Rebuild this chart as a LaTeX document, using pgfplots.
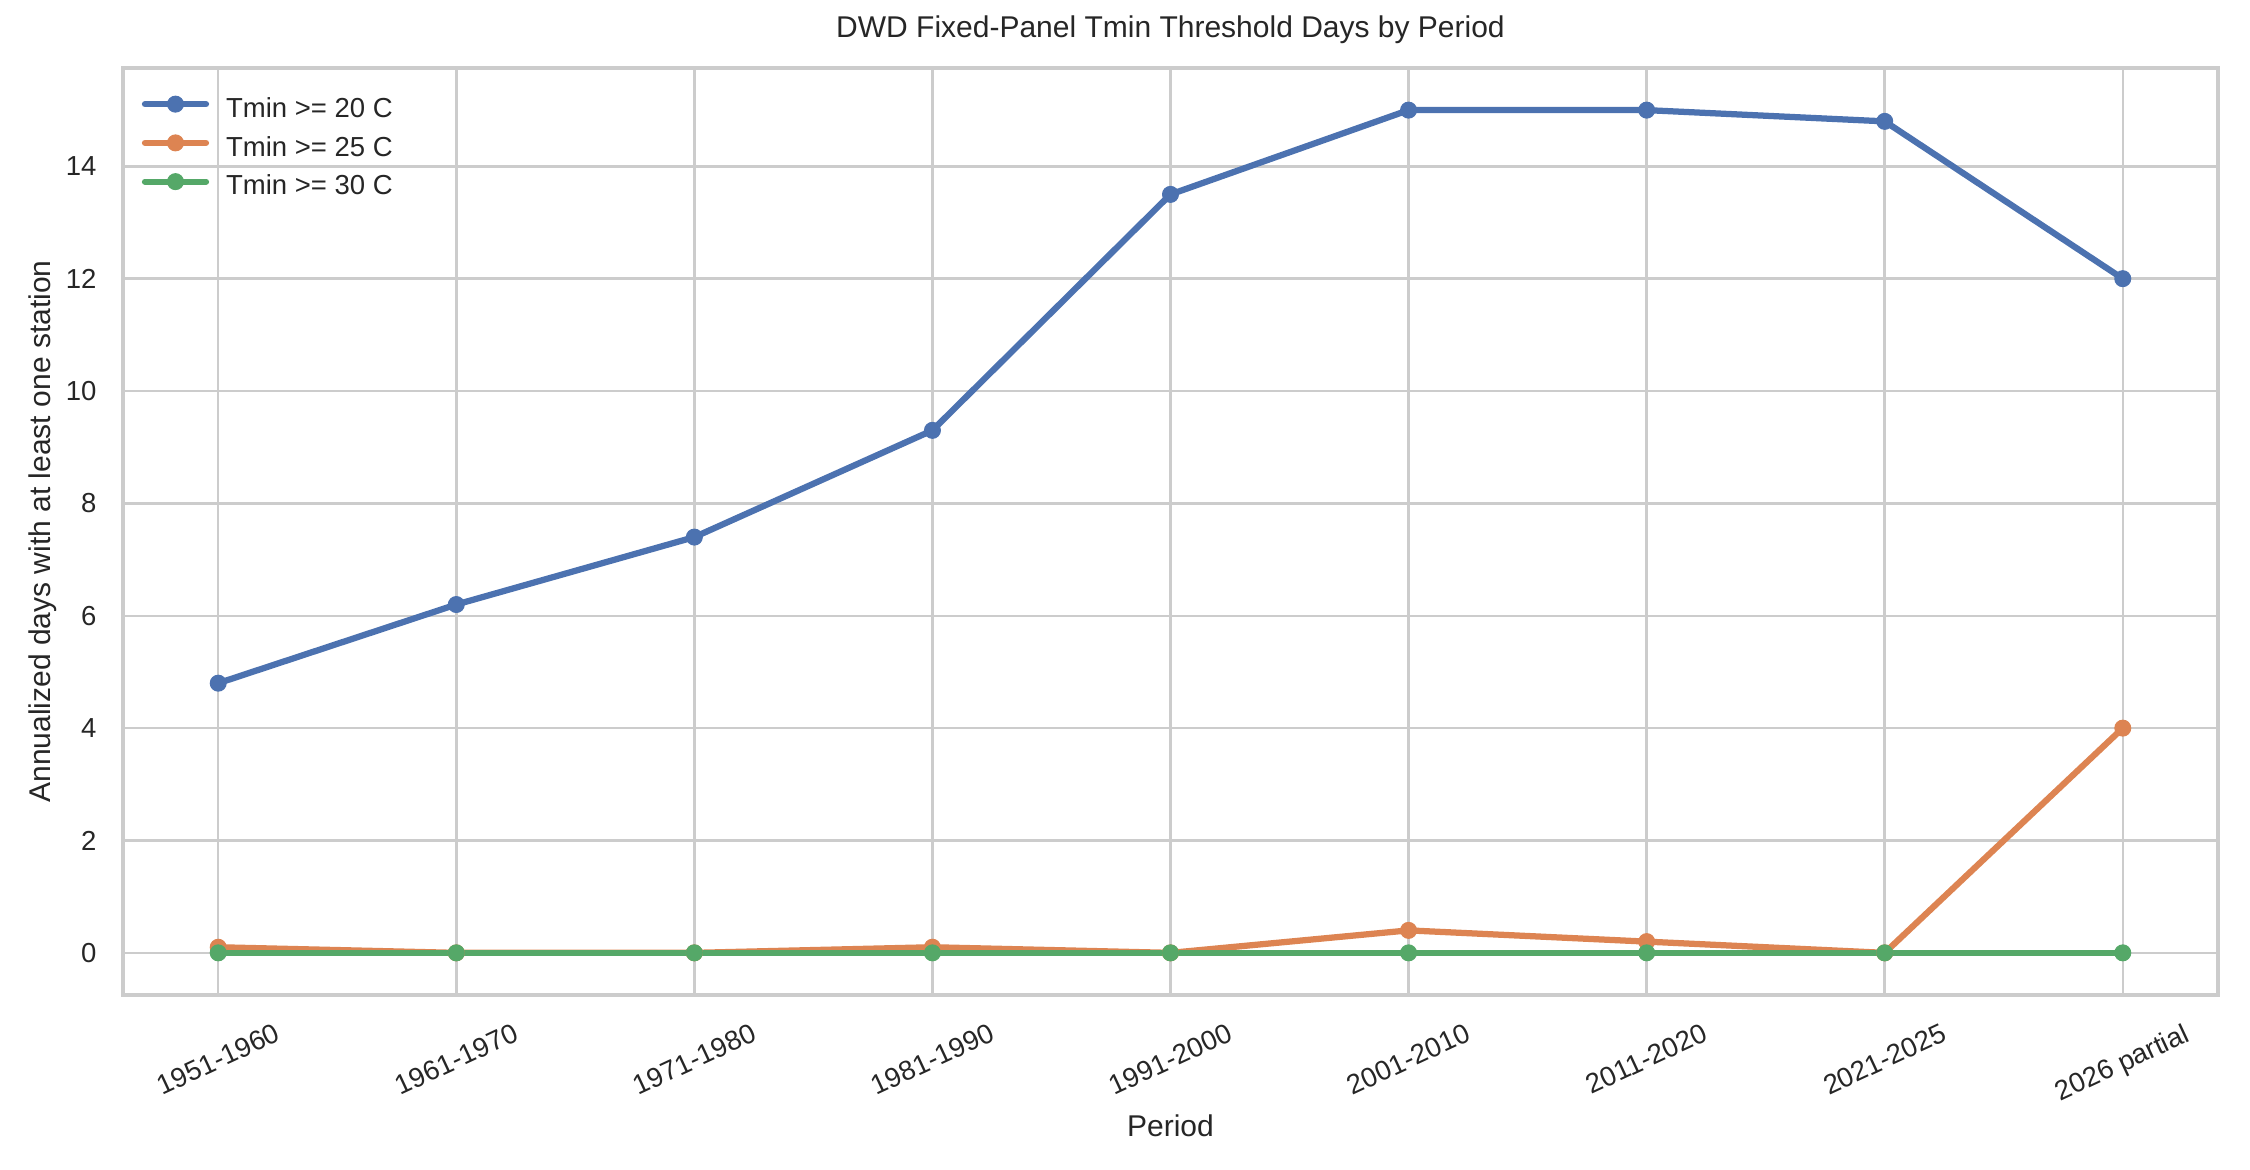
\documentclass[border=0pt]{standalone}
\usepackage{fontspec}
\setmainfont{Liberation Sans}
\usepackage{graphicx}
\usepackage{pgfplots}
\pgfplotsset{compat=1.18}
\definecolor{sbblue}{HTML}{4C72B0}
\definecolor{sborange}{HTML}{DD8452}
\definecolor{sbgreen}{HTML}{55A868}
\definecolor{gridc}{HTML}{CCCCCC}
\definecolor{txt}{HTML}{262626}
\newcommand{\lstrut}{\rule[-4pt]{0pt}{16pt}}
\begin{document}
\begin{tikzpicture}
\begin{axis}[
  scale only axis, width=838pt, height=370.8pt,
  xmin=-0.4, xmax=8.4, ymin=-0.75, ymax=15.75,
  xtick={0,1,2,3,4,5,6,7,8},
  xticklabels={\rotatebox{25}{1951-1960},\rotatebox{25}{1961-1970},\rotatebox{25}{1971-1980},\rotatebox{25}{1981-1990},\rotatebox{25}{1991-2000},\rotatebox{25}{2001-2010},\rotatebox{25}{2011-2020},\rotatebox{25}{2021-2025},\rotatebox{25}{2026 partial}},
  ytick={0,2,4,6,8,10,12,14},
  grid=major,
  major grid style={gridc, line width=1pt},
  axis line style={gridc, line width=1.25pt},
  major tick length=0pt,
  tick label style={font=\fontsize{11}{13}\selectfont, text=txt},
  /pgf/number format/assume math mode=true,
  xticklabel style={anchor=north, inner sep=0pt, yshift=-10.8pt},
  yticklabel style={anchor=east, inner sep=0pt, xshift=-10.4pt},
  title={DWD Fixed-Panel Tmin Threshold Days by Period},
  title style={at={(axis description cs:0.5,1)}, anchor=base, yshift=6pt, inner sep=0pt, font=\fontsize{12}{14}\selectfont, text=txt},
  xlabel={Period},
  xlabel style={at={(axis description cs:0.5,0)}, anchor=base, yshift=-56.8pt, inner sep=0pt, font=\fontsize{12}{14}\selectfont, text=txt},
  ylabel={Annualized days with at least one station},
  ylabel style={at={(axis description cs:-0.0345,0.5)}, anchor=base, inner sep=0pt, font=\fontsize{12}{14}\selectfont, text=txt},
  legend style={at={(axis description cs:0.009,0.9792)}, anchor=north west, draw=none, fill=none, inner sep=0pt, outer sep=0pt, row sep=2pt, column sep=6.8pt, font=\fontsize{11}{13}\selectfont, text=txt, nodes={inner sep=0pt}},
  legend cell align=left,
  legend image code/.code={\draw[mark repeat=2,mark phase=2,#1] plot coordinates {(0pt,0pt) (12.2pt,0pt) (24.4pt,0pt)};},
  every axis plot/.append style={line width=2.5pt, line cap=round, line join=round, mark=*, mark size=3.2pt, mark options={solid, line width=0.4pt}},
]
\addplot[color=sbblue] coordinates {(0,4.8) (1,6.2) (2,7.4) (3,9.3) (4,13.5) (5,15.0) (6,15.0) (7,14.8) (8,12.0)};
\addlegendentry{\lstrut Tmin >= 20 C}
\addplot[color=sborange] coordinates {(0,0.1) (1,0) (2,0) (3,0.1) (4,0) (5,0.4) (6,0.2) (7,0) (8,4.0)};
\addlegendentry{\lstrut Tmin >= 25 C}
\addplot[color=sbgreen] coordinates {(0,0) (1,0) (2,0) (3,0) (4,0) (5,0) (6,0) (7,0) (8,0)};
\addlegendentry{\lstrut Tmin >= 30 C}
\coordinate (SW) at (rel axis cs:0,0);
\coordinate (NE) at (rel axis cs:1,1);
\end{axis}
\pgfresetboundingbox
\path[use as bounding box] ([xshift=-49.2pt,yshift=-70pt]SW) rectangle ([xshift=12.8pt,yshift=27.2pt]NE);
\end{tikzpicture}
\end{document}
